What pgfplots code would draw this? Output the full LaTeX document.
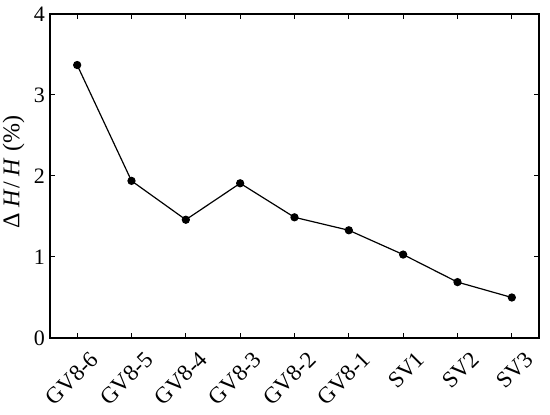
\documentclass[border=0pt]{standalone}
\usepackage{pgfplots}
\pgfplotsset{compat=1.18}
\usepackage{fontspec}
\setmainfont{Liberation Serif}
\begin{document}
\begin{tikzpicture}
\begin{axis}[
  at={(0,0)}, anchor=south west,
  scale only axis,
  width=489pt, height=324pt,
  xmin=-0.5, xmax=8.5, ymin=0, ymax=4,
  xtick={0,...,8},
  xticklabels={GV8-6,GV8-5,GV8-4,GV8-3,GV8-2,GV8-1,SV1,SV2,SV3},
  x tick label style={xshift=12pt, yshift=-12pt, rotate=45, anchor=north east, inner sep=0pt, font=\fontsize{23}{27}\selectfont},
  y tick label style={inner sep=0pt, xshift=-5pt, font=\fontsize{22}{26}\selectfont},
  ytick={0,1,2,3,4},
  tick align=inside,
  major tick length=5pt,
  tick style={black, line width=1pt},
  axis line style={line width=1.2pt},
  /pgf/number format/assume math mode=true,
  label style={font=\fontsize{24}{28}\selectfont},
  ylabel={Δ \textit{H}/ \textit{H} (\%)},
  ylabel style={at={(axis description cs:-0.045,0.512)}, anchor=south},
]
\addplot[black, line width=1.2pt, mark=*, mark size=3.5pt] coordinates {
(0,3.37) (1,1.94) (2,1.46) (3,1.91) (4,1.49) (5,1.33) (6,1.03) (7,0.69) (8,0.50)
};
\end{axis}
\pgfresetboundingbox
\path[use as bounding box] (-50pt,-77pt) rectangle (500pt,338pt);
\end{tikzpicture}
\end{document}
